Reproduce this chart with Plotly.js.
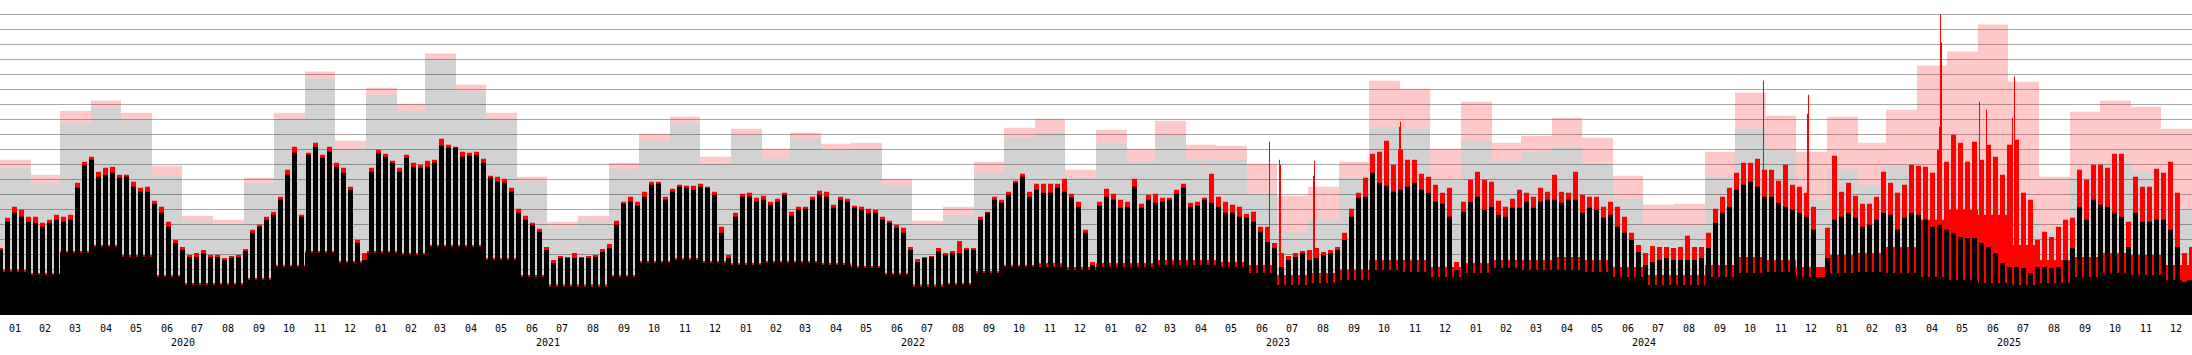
<!DOCTYPE html>
<html>
<head>
<meta charset="utf-8">
<script src="https://cdn.plot.ly/plotly-3.0.1.min.js"></script>
<style>
html,body{margin:0;padding:0;background:#fff;}
#chart{width:2192px;height:355px;}
</style>
</head>
<body>
<div id="chart"></div>
<script>
// ---------------- DATA ----------------
const years = [2020, 2021, 2022, 2023, 2024, 2025];
const monthLabels = ['01','02','03','04','05','06','07','08','09','10','11','12'];

// Monthly totals (gray = black series, pink = red series), one per month 2020-01 .. 2025-12
const blackMonthly = [
  147,132,192,207,195,139, 94, 91,132,196,236,166,
  220,204,255,223,196,134, 88, 94,146,174,192,151,
  180,156,176,165,166,130, 90,100,142,177,182,137,
  172,153,180,155,155,121, 83, 95,137,188,186,135,
  174,154,163,168,151,116, 90, 90,138,186,165,115,
  146,130,150,135,125,115, 95, 82,137,152,143,105
];
const redMonthly = [
  155,140,204,214,202,149, 99, 95,137,202,243,174,
  227,211,261,230,202,138, 93, 99,152,181,198,158,
  186,166,182,171,172,136, 94,108,153,187,196,145,
  185,166,194,170,169,151,119,128,153,234,226,166,
  213,172,179,197,177,139,110,111,163,222,199,163,
  198,172,205,249,263,290,233,138,203,214,208,186
];

// Weekly weekday levels (weeks start Monday 2019-12-30)
const blackWeekday = [
  65,
  93,102,98,93,92,88,92,95,93,95,
  127,150,155,138,140,142,137,138,128,123,
  123,111,102,88,72,65,58,58,62,58,
  58,55,57,58,64,82,88,95,100,115,
  140,162,98,160,168,157,163,148,142,125,
  72,55,143,162,158,152,143,
  157,148,147,148,152,169,167,167,158,159,
  160,152,137,133,132,123,102,95,90,83,
  65,52,57,57,57,57,57,58,63,67,
  90,111,113,109,118,130,131,115,123,128,
  127,125,128,127,120,82,57,98,118,118,
  113,115,110,113,120,99,105,106,115,120,
  118,107,115,113,107,105,102,102,95,92,87,
  82,65,53,57,58,64,60,62,62,65,
  65,95,102,115,112,120,132,138,118,125,
  122,122,127,123,117,108,82,50,109,118,
  115,107,108,128,107,115,112,113,115,121,
  127,108,109,115,112,108,102,102,98,97,
  93,83,73,67,48,55,58,62,55,57,
  60,62,65,75,98,117,118,142,132,129,123,
  125,128,132,125,122,113,111,98,45,103,
  113,118,105,108,100,98,107,107,113,107,
  113,115,115,112,115,115,102,107,105,97,
  100,88,82,75,63,50,53,55,57,55,
  55,55,55,57,67,92,102,108,125,130,
  133,128,118,118,112,108,105,102,98,85,
  38,57,95,98,102,97,88,90,95,102,
  100,85,97,102,100,95,88,90,85,82,
  78,77,77,72,68,62,52,48,48,47,
  42,48,48,47,48,55,67,108,95,115,
  110,108,102,98,68,102,93,93,95,95,
  85,68,33,35
];
const redWeekday = [
  67,
  97,108,105,98,98,92,95,100,98,100,
  132,153,158,143,147,148,140,140,133,127,
  128,114,108,93,75,68,60,62,65,60,
  60,57,59,60,66,85,90,98,103,118,
  145,168,100,162,172,160,168,152,147,128,
  75,62,147,165,161,154,147,
  160,152,150,154,155,176,170,168,163,162,
  163,156,139,138,136,127,106,99,92,86,
  68,55,59,58,62,58,59,60,66,71,
  94,113,118,113,123,133,133,118,126,130,
  129,129,131,128,123,88,60,102,121,122,
  117,119,113,116,122,103,108,108,118,124,
  123,110,118,116,109,108,106,105,98,94,90,
  87,68,56,58,59,67,62,64,74,67,
  67,98,103,118,115,123,134,141,123,131,
  131,131,131,136,121,113,85,53,113,126,
  121,115,113,136,111,120,121,117,117,125,
  131,112,113,117,141,118,113,110,108,101,
  103,88,88,72,62,59,62,64,65,67,
  63,65,68,82,106,122,137,161,163,174,150,
  165,155,155,141,138,130,122,127,53,113,
  135,143,135,133,114,108,116,125,122,118,
  127,123,140,123,122,143,120,118,118,108,
  113,108,98,82,70,62,69,68,68,67,
  68,79,68,68,82,106,118,127,142,152,
  152,156,145,145,134,150,130,128,122,108,
  48,87,159,123,132,119,111,111,118,143,
  132,122,130,150,149,148,142,165,153,180,
  172,153,173,155,170,158,140,170,175,122,
  115,75,83,78,88,95,97,145,135,150,
  150,147,161,161,93,138,128,128,146,142,
  153,122,62,68
];

// Weekend levels, one per month
const blackWeekend = [
  43,40,62,68,58,38,30,30,35,48,62,52,
  62,60,68,68,55,38,28,28,38,52,55,52,
  50,52,52,50,47,40,28,30,42,48,48,45,
  48,48,50,50,48,42,30,32,35,45,43,38,
  42,47,45,45,43,38,30,30,38,42,43,38,
  42,43,42,38,35,32,30,32,38,42,40,35
];
const redWeekend = [
  45,42,64,70,60,40,32,32,37,50,64,54,
  64,62,70,70,57,40,30,30,40,54,57,54,
  52,54,54,52,49,42,30,32,44,50,52,48,
  52,52,55,55,53,50,40,42,45,55,55,48,
  52,55,55,58,55,48,40,40,50,58,55,48,
  60,62,68,95,105,100,70,55,58,62,60,50
];

// Individual red peaks
const spikeDates = ['2023-06-23','2023-07-03','2023-07-04','2023-08-06','2023-08-07','2023-10-31','2023-11-01',
  '2024-10-29','2024-12-12','2024-12-13','2025-04-23','2025-04-24','2025-04-25','2025-06-02','2025-06-09','2025-07-05','2025-07-07'];
const spikeValues = [173,155,150,139,154,188,193,234,201,220,188,300,272,213,205,197,238];

// ---------------- BUILD ----------------
const DAY = 86400000;
const t0 = Date.UTC(2020, 0, 1);
const nDays = 2192;
const iso = ms => new Date(ms).toISOString().slice(0, 10);

const spikeMap = {};
spikeDates.forEach((d, i) => spikeMap[d] = spikeValues[i]);

const dX = [], dBlack = [], dRed = [];
for (let d = 0; d < nDays; d++) {
  const ms = t0 + d * DAY;
  const dt = new Date(ms);
  const mi = (dt.getUTCFullYear() - 2020) * 12 + dt.getUTCMonth();
  const w = Math.floor((d + 2) / 7);
  const dow = (d + 2) % 7;
  let b, r;
  if (dow < 5) {
    b = blackWeekday[Math.min(w, blackWeekday.length - 1)];
    r = redWeekday[Math.min(w, redWeekday.length - 1)];
  } else {
    b = blackWeekend[mi];
    r = redWeekend[mi];
  }
  const key = iso(ms);
  if (spikeMap[key] !== undefined) r = spikeMap[key];
  r = Math.max(r, b);
  dX.push(key); dBlack.push(b); dRed.push(r);
}
dX.push(iso(t0 + nDays * DAY));
dBlack.push(dBlack[dBlack.length - 1]);
dRed.push(dRed[dRed.length - 1]);

const mX = [], tickvals = [], ticktext = [];
years.forEach(y => {
  monthLabels.forEach((lab, m) => {
    const s = Date.UTC(y, m, 1), e = Date.UTC(y, m + 1, 1);
    mX.push(iso(s));
    tickvals.push(iso(s + (e - s) / 2));
    ticktext.push(lab);
  });
});
mX.push(iso(Date.UTC(years[years.length - 1] + 1, 0, 1)));
const gM = blackMonthly.concat([blackMonthly[blackMonthly.length - 1]]);
const pM = redMonthly.concat([redMonthly[redMonthly.length - 1]]);

const noLine = {width: 0, color: 'rgba(0,0,0,0)', shape: 'hv'};
const traces = [
  {type: 'scatter', mode: 'lines', x: mX, y: gM, fill: 'tozeroy', fillcolor: 'rgba(0,0,0,0.175)', line: noLine, hoverinfo: 'skip'},
  {type: 'scatter', mode: 'lines', x: mX, y: pM, fill: 'tonexty', fillcolor: 'rgba(255,0,0,0.215)', line: noLine, hoverinfo: 'skip'},
  {type: 'scatter', mode: 'lines', x: dX, y: dRed, fill: 'tozeroy', fillcolor: '#ff0000', line: noLine, hoverinfo: 'skip'},
  {type: 'scatter', mode: 'lines', x: dX, y: dBlack, fill: 'tozeroy', fillcolor: '#000000', line: noLine, hoverinfo: 'skip'}
];

const font = {family: 'DejaVu Sans Mono', size: 10, color: '#000'};
const layout = {
  width: 2192, height: 355,
  margin: {l: 0, r: 0, t: 0, b: 40, pad: 0},
  paper_bgcolor: '#ffffff', plot_bgcolor: '#ffffff',
  showlegend: false,
  font: font,
  xaxis: {
    type: 'date', range: ['2020-01-01', '2026-01-01'],
    tickmode: 'array', tickvals: tickvals, ticktext: ticktext,
    ticks: 'outside', ticklen: 4, tickcolor: 'rgba(0,0,0,0)',
    showgrid: false, zeroline: false, showline: false,
    tickfont: font, tickangle: 0, fixedrange: true
  },
  yaxis: {
    range: [0, 314.5], tick0: 0, dtick: 15,
    showticklabels: false, ticks: '', zeroline: false, showline: false,
    gridcolor: '#aaaaaa', gridwidth: 1, fixedrange: true
  },
  annotations: years.map(y => ({
    x: y + '-07-02', xref: 'x', y: -0.087, yref: 'paper',
    text: String(y), showarrow: false, font: font, xanchor: 'center', yanchor: 'middle'
  }))
};

Plotly.newPlot('chart', traces, layout, {staticPlot: true, displayModeBar: false});
</script>
</body>
</html>
